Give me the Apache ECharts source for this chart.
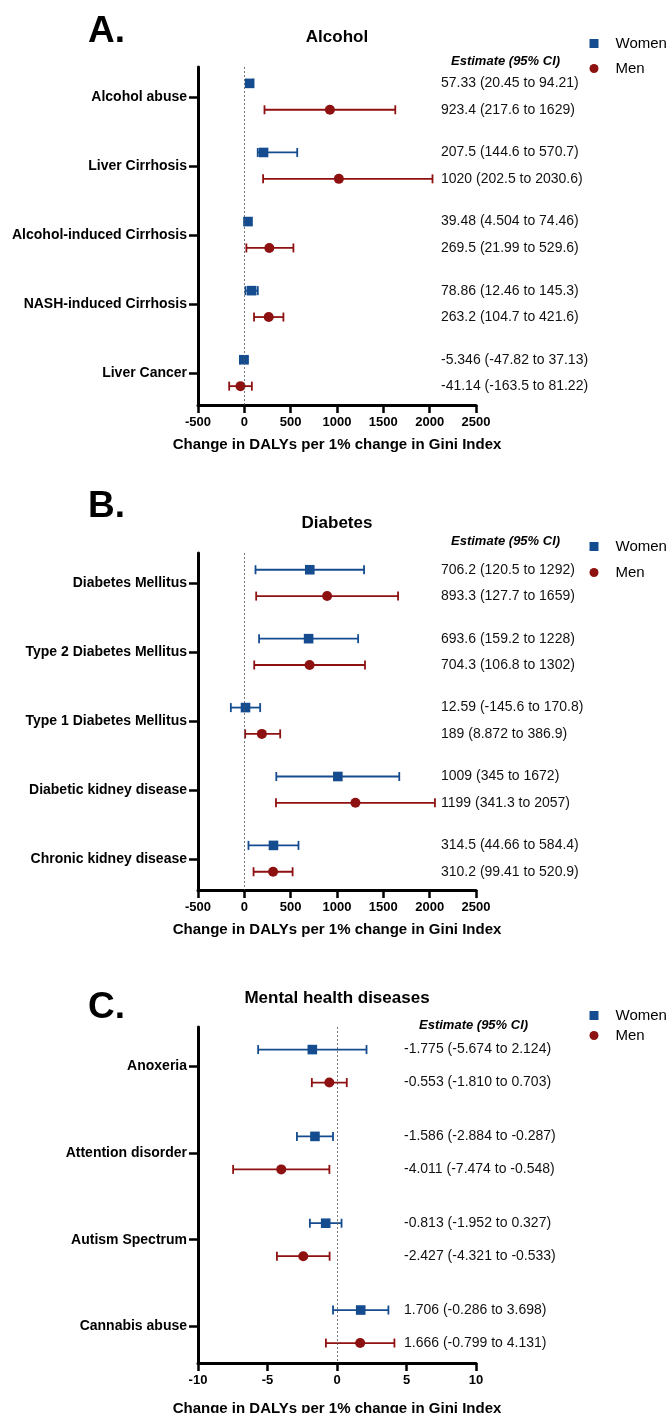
<!DOCTYPE html>
<html>
<head>
<meta charset="utf-8">
<script src="https://cdn.jsdelivr.net/npm/echarts@6/dist/echarts.min.js"></script>
<style>
html,body{margin:0;padding:0;background:#fff;}
#chart{width:669px;height:1413px;}
</style>
</head>
<body>
<div id="chart"></div>
<script>
// ---------- Panel A: Alcohol ----------
const alcoholCategories = ['Alcohol abuse', 'Liver Cirrhosis', 'Alcohol-induced Cirrhosis', 'NASH-induced Cirrhosis', 'Liver Cancer'];
const alcoholWomenEst = [57.33, 207.5, 39.48, 78.86, -5.346];
const alcoholWomenLow = [20.45, 144.6, 4.504, 12.46, -47.82];
const alcoholWomenHigh = [94.21, 570.7, 74.46, 145.3, 37.13];
const alcoholMenEst = [923.4, 1020, 269.5, 263.2, -41.14];
const alcoholMenLow = [217.6, 202.5, 21.99, 104.7, -163.5];
const alcoholMenHigh = [1629, 2030.6, 529.6, 421.6, 81.22];

// ---------- Panel B: Diabetes ----------
const diabetesCategories = ['Diabetes Mellitus', 'Type 2 Diabetes Mellitus', 'Type 1 Diabetes Mellitus', 'Diabetic kidney disease', 'Chronic kidney disease'];
const diabetesWomenEst = [706.2, 693.6, 12.59, 1009, 314.5];
const diabetesWomenLow = [120.5, 159.2, -145.6, 345, 44.66];
const diabetesWomenHigh = [1292, 1228, 170.8, 1672, 584.4];
const diabetesMenEst = [893.3, 704.3, 189, 1199, 310.2];
const diabetesMenLow = [127.7, 106.8, 8.872, 341.3, 99.41];
const diabetesMenHigh = [1659, 1302, 386.9, 2057, 520.9];

// ---------- Panel C: Mental health diseases ----------
const mentalCategories = ['Anoxeria', 'Attention disorder', 'Autism Spectrum', 'Cannabis abuse'];
const mentalWomenEst = [-1.775, -1.586, -0.813, 1.706];
const mentalWomenLow = [-5.674, -2.884, -1.952, -0.286];
const mentalWomenHigh = [2.124, -0.287, 0.327, 3.698];
const mentalMenEst = [-0.553, -4.011, -2.427, 1.666];
const mentalMenLow = [-1.810, -7.474, -4.321, -0.799];
const mentalMenHigh = [0.703, -0.548, -0.533, 4.131];

// ---------- Axis ticks ----------
const dalyTicks = { min: -500, max: 2500, interval: 500 };
const mentalTicks = { min: -10, max: 10, interval: 5 };

const seriesNames = ['Women', 'Men'];
const axisTitle = 'Change in DALYs per 1% change in Gini Index';
const estimateHeader = 'Estimate (95% CI)';

const FONT = '"Liberation Sans", Arial, Helvetica, sans-serif';
const WOMEN_COLOR = '#144c8f';
const MEN_COLOR = '#8e1111';

const panels = [
  {
    letter: 'A.', title: 'Alcohol', cats: alcoholCategories, ticks: dalyTicks,
    women: [alcoholWomenEst, alcoholWomenLow, alcoholWomenHigh],
    men: [alcoholMenEst, alcoholMenLow, alcoholMenHigh],
    fmt: v => String(v),
    gridTop: 67, gridH: 338, yMin: -0.434, yMax: 4.458,
    offW: -0.197, offM: 0.185, textX: 441,
    letterY: 31.5, titleY: 37.5, estY: 61.5, estX: 451, legendY: 36, legendGap: 10, nameGap: 32
  },
  {
    letter: 'B.', title: 'Diabetes', cats: diabetesCategories, ticks: dalyTicks,
    women: [diabetesWomenEst, diabetesWomenLow, diabetesWomenHigh],
    men: [diabetesMenEst, diabetesMenLow, diabetesMenHigh],
    fmt: v => String(v),
    gridTop: 553, gridH: 337, yMin: -0.44, yMax: 4.45,
    offW: -0.197, offM: 0.185, textX: 441,
    letterY: 506.5, titleY: 523, estY: 541.5, estX: 451, legendY: 539, legendGap: 11, nameGap: 32
  },
  {
    letter: 'C.', title: 'Mental health diseases', cats: mentalCategories, ticks: mentalTicks,
    women: [mentalWomenEst, mentalWomenLow, mentalWomenHigh],
    men: [mentalMenEst, mentalMenLow, mentalMenHigh],
    fmt: v => Number(v).toFixed(3),
    gridTop: 1027, gridH: 336, yMin: -0.45, yMax: 3.42,
    offW: -0.19, offM: 0.19, textX: 404,
    letterY: 1008, titleY: 998, estY: 1025, estX: 419, legendY: 1008, legendGap: 5, nameGap: 38
  }
];

function makeRender(offset, shape, color, textX, fmt) {
  return function (params, api) {
    const yv = api.value(3) + offset;
    const p = api.coord([api.value(0), yv]);
    const l = api.coord([api.value(1), yv]);
    const h = api.coord([api.value(2), yv]);
    const cap = 4.5;
    const lw = 1.8;
    const txt = fmt(api.value(0)) + ' (' + fmt(api.value(1)) + ' to ' + fmt(api.value(2)) + ')';
    const marker = shape === 'square'
      ? { type: 'rect', shape: { x: p[0] - 4.8, y: p[1] - 4.8, width: 9.6, height: 9.6 }, style: { fill: color } }
      : { type: 'circle', shape: { cx: p[0], cy: p[1], r: 5 }, style: { fill: color } };
    return {
      type: 'group',
      children: [
        { type: 'line', shape: { x1: l[0], y1: l[1], x2: h[0], y2: h[1] }, style: { stroke: color, lineWidth: lw } },
        { type: 'line', shape: { x1: l[0], y1: l[1] - cap, x2: l[0], y2: l[1] + cap }, style: { stroke: color, lineWidth: lw } },
        { type: 'line', shape: { x1: h[0], y1: h[1] - cap, x2: h[0], y2: h[1] + cap }, style: { stroke: color, lineWidth: lw } },
        marker,
        {
          type: 'text', x: textX, y: p[1],
          style: { text: txt, fill: '#111', fontSize: 14, fontFamily: FONT, align: 'left', verticalAlign: 'middle' }
        }
      ]
    };
  };
}

const grid = [], xAxis = [], yAxis = [], series = [], title = [], legend = [];

panels.forEach((pn, i) => {
  grid.push({ left: 198, width: 278, top: pn.gridTop, height: pn.gridH, outerBoundsMode: 'none', containLabel: false });
  const idx = pn.cats.map((_, k) => k);
  xAxis.push({
    gridIndex: i, type: 'value', min: pn.ticks.min, max: pn.ticks.max, interval: pn.ticks.interval,
    axisLine: { show: true, onZero: false, lineStyle: { color: '#000', width: 3 } },
    axisTick: { show: true, length: 8, lineStyle: { color: '#000', width: 2.5 } },
    axisLabel: { margin: 11, fontSize: 13, fontWeight: 'bold', color: '#000', fontFamily: FONT, formatter: v => String(v) },
    splitLine: { show: false },
    name: axisTitle, nameLocation: 'middle', nameGap: pn.nameGap,
    nameTextStyle: { fontSize: 15, fontWeight: 'bold', color: '#000', fontFamily: FONT }
  });
  yAxis.push({
    gridIndex: i, type: 'value', inverse: true, min: pn.yMin, max: pn.yMax,
    axisLine: { show: true, onZero: false, lineStyle: { color: '#000', width: 3 } },
    axisTick: { show: true, customValues: idx, length: 9, lineStyle: { color: '#000', width: 2.5 } },
    axisLabel: {
      customValues: idx, margin: 11, fontSize: 14, fontWeight: 'bold', color: '#000', fontFamily: FONT,
      formatter: v => pn.cats[Math.round(v)]
    },
    splitLine: { show: false }
  });
  const groups = [
    { name: seriesNames[0], arr: pn.women, off: pn.offW, shape: 'square', color: WOMEN_COLOR },
    { name: seriesNames[1], arr: pn.men, off: pn.offM, shape: 'circle', color: MEN_COLOR }
  ];
  groups.forEach((g, gi) => {
    const data = g.arr[0].map((est, k) => [est, g.arr[1][k], g.arr[2][k], k]);
    const s = {
      type: 'custom', name: g.name, xAxisIndex: i, yAxisIndex: i,
      itemStyle: { color: g.color },
      encode: { x: [0, 1, 2], y: 3 },
      renderItem: makeRender(g.off, g.shape, g.color, pn.textX, pn.fmt),
      data: data, clip: false, z: 3
    };
    if (gi === 0) {
      s.markLine = {
        silent: true, symbol: 'none', label: { show: false },
        lineStyle: { color: '#555', width: 0.8, type: [2, 2] },
        data: [{ xAxis: 0 }]
      };
    }
    series.push(s);
  });
  title.push({
    text: pn.letter, left: 88, top: pn.letterY - 19, padding: 0,
    textStyle: { fontSize: 37, fontWeight: 'bold', color: '#000', fontFamily: FONT, lineHeight: 38 }
  });
  title.push({
    text: pn.title, left: 337, textAlign: 'center', top: pn.titleY - 10, padding: 0,
    textStyle: { fontSize: 17, fontWeight: 'bold', color: '#000', fontFamily: FONT, lineHeight: 20 }
  });
  title.push({
    text: estimateHeader, left: pn.estX, top: pn.estY - 8, padding: 0,
    textStyle: { fontSize: 13, fontWeight: 'bold', fontStyle: 'italic', color: '#000', fontFamily: FONT, lineHeight: 16 }
  });
  legend.push({
    orient: 'vertical', left: 589.5, top: pn.legendY, padding: 0,
    itemWidth: 9, itemHeight: 9, itemGap: pn.legendGap, selectedMode: false,
    textStyle: { fontSize: 15, color: '#000', fontFamily: FONT, padding: [0, 0, 0, 12] },
    data: [{ name: 'Women', icon: 'rect' }, { name: 'Men', icon: 'circle' }]
  });
});

const chart = echarts.init(document.getElementById('chart'), null, { renderer: 'canvas' });
chart.setOption({
  backgroundColor: '#fff',
  animation: false,
  textStyle: { fontFamily: FONT },
  title, legend, grid, xAxis, yAxis, series
});
</script>
</body>
</html>
